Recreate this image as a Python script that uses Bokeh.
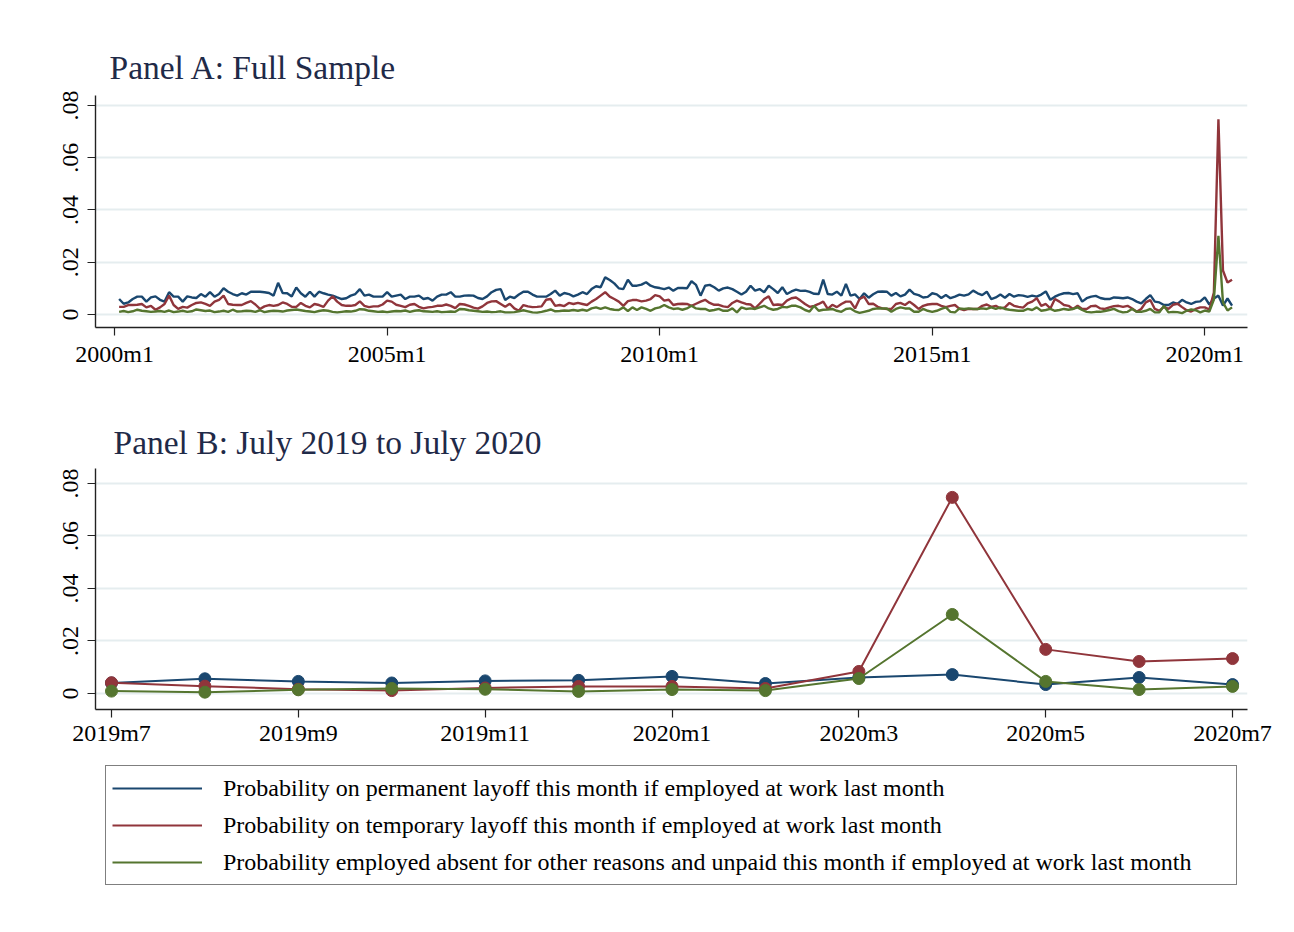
from bokeh.plotting import figure
from bokeh.models import FixedTicker, Legend, LegendItem, Range1d
from bokeh.layouts import column
from bokeh.embed import file_html
from bokeh.resources import INLINE

# ---------------- data (monthly, 2000m2 .. 2020m7) ----------------
first_month = 1  # months since 2000m1

permanent = [
    0.0059, 0.0041, 0.0046, 0.0059, 0.0068, 0.0068, 0.0049, 0.0065, 0.0069, 0.0056,
    0.0049, 0.0085, 0.0068, 0.0068, 0.0049, 0.0069, 0.0065, 0.0063, 0.0078, 0.0068,
    0.0085, 0.0068, 0.0078, 0.0100, 0.0087, 0.0078, 0.0072, 0.0081, 0.0076, 0.0087,
    0.0087, 0.0087, 0.0085, 0.0082, 0.0072, 0.0121, 0.0082, 0.0081, 0.0069, 0.0103,
    0.0081, 0.0068, 0.0087, 0.0068, 0.0087, 0.0081, 0.0076, 0.0072, 0.0065,
    0.0059, 0.0062, 0.0072, 0.0078, 0.0097, 0.0072, 0.0076, 0.0068, 0.0068, 0.0068,
    0.0085, 0.0068, 0.0072, 0.0076, 0.0059, 0.0068, 0.0068, 0.0072, 0.0059, 0.0063,
    0.0053, 0.0068, 0.0076, 0.0076, 0.0085, 0.0068, 0.0068, 0.0072, 0.0073, 0.0072,
    0.0063, 0.0059, 0.0069, 0.0085, 0.0094, 0.0097, 0.0055, 0.0068, 0.0063, 0.0076,
    0.0087, 0.0087, 0.0076, 0.0068, 0.0068, 0.0068, 0.0078, 0.0091, 0.0072, 0.0082,
    0.0078, 0.0069, 0.0076, 0.0085, 0.0078, 0.0097, 0.0108, 0.0104, 0.0142, 0.0132,
    0.0119, 0.0100, 0.0097, 0.0133, 0.0110, 0.0110, 0.0114, 0.0123, 0.0110, 0.0104,
    0.0101, 0.0097, 0.0103, 0.0091, 0.0101, 0.0101, 0.0100, 0.0127, 0.0113, 0.0072,
    0.0110, 0.0113, 0.0104, 0.0091, 0.0100, 0.0103, 0.0097, 0.0087, 0.0076, 0.0087,
    0.0110, 0.0091, 0.0097, 0.0085, 0.0110, 0.0097, 0.0082, 0.0104, 0.0078, 0.0088,
    0.0095, 0.0090, 0.0091, 0.0086, 0.0079, 0.0078, 0.0133, 0.0078, 0.0076, 0.0087,
    0.0072, 0.0117, 0.0072, 0.0077, 0.0059, 0.0081, 0.0064, 0.0077, 0.0087, 0.0088,
    0.0087, 0.0072, 0.0082, 0.0069, 0.0076, 0.0095, 0.0079, 0.0074, 0.0065, 0.0067,
    0.0081, 0.0077, 0.0063, 0.0074, 0.0062, 0.0068, 0.0076, 0.0072, 0.0077, 0.0091,
    0.0081, 0.0074, 0.0087, 0.0059, 0.0065, 0.0076, 0.0064, 0.0078, 0.0068, 0.0074,
    0.0072,
    0.0067, 0.0072, 0.0068, 0.0076, 0.0088, 0.0056, 0.0068, 0.0076, 0.0081, 0.0082,
    0.0078, 0.0081, 0.0049, 0.0062, 0.0068, 0.0071, 0.0063, 0.0059, 0.0059, 0.0065,
    0.0064, 0.0062, 0.0065, 0.0059, 0.0049, 0.0042, 0.0059, 0.0074, 0.0049, 0.0046,
    0.0036, 0.0036, 0.0046,
    0.0040, 0.0056, 0.0046, 0.0040, 0.0048, 0.0050, 0.0065, 0.0038, 0.0061, 0.0072,
    0.0034, 0.0061, 0.0034,
]

temporary = [
    0.0029, 0.0029, 0.0036, 0.0036, 0.0037, 0.0040, 0.0027, 0.0033, 0.0018, 0.0027,
    0.0040, 0.0072, 0.0036, 0.0021, 0.0029, 0.0026, 0.0036, 0.0044, 0.0046, 0.0040,
    0.0033, 0.0049, 0.0056, 0.0072, 0.0040, 0.0037, 0.0036, 0.0036, 0.0044, 0.0051,
    0.0038, 0.0021, 0.0031, 0.0036, 0.0033, 0.0036, 0.0046, 0.0040, 0.0029, 0.0029,
    0.0044, 0.0033, 0.0027, 0.0040, 0.0036, 0.0029, 0.0053, 0.0069, 0.0049,
    0.0036, 0.0033, 0.0033, 0.0036, 0.0050, 0.0033, 0.0028, 0.0031, 0.0031, 0.0038,
    0.0053, 0.0049, 0.0037, 0.0033, 0.0028, 0.0037, 0.0040, 0.0029, 0.0023, 0.0027,
    0.0029, 0.0033, 0.0033, 0.0038, 0.0033, 0.0024, 0.0040, 0.0038, 0.0033, 0.0026,
    0.0022, 0.0031, 0.0044, 0.0050, 0.0051, 0.0040, 0.0029, 0.0041, 0.0023, 0.0014,
    0.0036, 0.0031, 0.0028, 0.0029, 0.0031, 0.0056, 0.0059, 0.0033, 0.0036, 0.0032,
    0.0044, 0.0040, 0.0044, 0.0040, 0.0036, 0.0049, 0.0059, 0.0072, 0.0085, 0.0068,
    0.0059, 0.0049, 0.0033, 0.0051, 0.0055, 0.0055, 0.0050, 0.0053, 0.0059, 0.0074,
    0.0069, 0.0053, 0.0056, 0.0036, 0.0040, 0.0041, 0.0040, 0.0033, 0.0041, 0.0049,
    0.0056, 0.0044, 0.0037, 0.0037, 0.0031, 0.0028, 0.0044, 0.0053, 0.0046, 0.0040,
    0.0038, 0.0023, 0.0041, 0.0059, 0.0069, 0.0036, 0.0038, 0.0036, 0.0053, 0.0062,
    0.0065, 0.0053, 0.0040, 0.0029, 0.0033, 0.0040, 0.0049, 0.0021, 0.0037, 0.0028,
    0.0040, 0.0049, 0.0049, 0.0023, 0.0059, 0.0068, 0.0040, 0.0041, 0.0029, 0.0023,
    0.0021, 0.0021, 0.0040, 0.0044, 0.0036, 0.0049, 0.0036, 0.0021, 0.0033, 0.0038,
    0.0040, 0.0040, 0.0033, 0.0028, 0.0033, 0.0036, 0.0021, 0.0017, 0.0021, 0.0021,
    0.0021, 0.0033, 0.0038, 0.0029, 0.0033, 0.0023, 0.0027, 0.0044, 0.0033, 0.0029,
    0.0026,
    0.0042, 0.0049, 0.0062, 0.0033, 0.0040, 0.0023, 0.0059, 0.0049, 0.0036, 0.0033,
    0.0021, 0.0033, 0.0021, 0.0021, 0.0032, 0.0033, 0.0023, 0.0021, 0.0027, 0.0032,
    0.0033, 0.0029, 0.0033, 0.0023, 0.0010, 0.0021, 0.0046, 0.0055, 0.0021, 0.0014,
    0.0029, 0.0021, 0.0037,
    0.0041, 0.0028, 0.0016, 0.0011, 0.0021, 0.0027, 0.0027, 0.0019, 0.0084, 0.0747,
    0.0168, 0.0122, 0.0133,
]

absent_unpaid = [
    0.0010, 0.0013, 0.0009, 0.0012, 0.0018, 0.0014, 0.0012, 0.0010, 0.0011, 0.0013,
    0.0010, 0.0015, 0.0009, 0.0011, 0.0014, 0.0010, 0.0012, 0.0019, 0.0016, 0.0013,
    0.0015, 0.0009, 0.0011, 0.0014, 0.0010, 0.0018, 0.0011, 0.0012, 0.0014, 0.0013,
    0.0010, 0.0016, 0.0009, 0.0012, 0.0014, 0.0013, 0.0011, 0.0015, 0.0017, 0.0019,
    0.0016, 0.0013, 0.0011, 0.0009, 0.0013, 0.0016, 0.0014, 0.0010, 0.0008,
    0.0010, 0.0012, 0.0011, 0.0014, 0.0020, 0.0019, 0.0014, 0.0012, 0.0010, 0.0011,
    0.0009, 0.0011, 0.0013, 0.0012, 0.0015, 0.0010, 0.0014, 0.0016, 0.0012, 0.0011,
    0.0010, 0.0012, 0.0009, 0.0010, 0.0011, 0.0010, 0.0021, 0.0020, 0.0016, 0.0014,
    0.0012, 0.0010, 0.0011, 0.0009, 0.0010, 0.0012, 0.0008, 0.0008, 0.0009, 0.0012,
    0.0016, 0.0012, 0.0008, 0.0007, 0.0010, 0.0014, 0.0019, 0.0012, 0.0013, 0.0015,
    0.0014, 0.0017, 0.0014, 0.0018, 0.0014, 0.0023, 0.0027, 0.0021, 0.0027, 0.0021,
    0.0018, 0.0017, 0.0027, 0.0013, 0.0027, 0.0017, 0.0027, 0.0021, 0.0014, 0.0023,
    0.0027, 0.0036, 0.0027, 0.0021, 0.0023, 0.0018, 0.0023, 0.0033, 0.0023, 0.0021,
    0.0021, 0.0014, 0.0017, 0.0021, 0.0014, 0.0014, 0.0023, 0.0008, 0.0027, 0.0021,
    0.0023, 0.0021, 0.0027, 0.0033, 0.0023, 0.0018, 0.0021, 0.0029, 0.0027, 0.0033,
    0.0033, 0.0027, 0.0017, 0.0011, 0.0033, 0.0014, 0.0018, 0.0019, 0.0021, 0.0014,
    0.0010, 0.0021, 0.0023, 0.0012, 0.0006, 0.0010, 0.0014, 0.0021, 0.0023, 0.0023,
    0.0023, 0.0010, 0.0021, 0.0027, 0.0023, 0.0023, 0.0010, 0.0010, 0.0021, 0.0014,
    0.0010, 0.0014, 0.0021, 0.0027, 0.0010, 0.0008, 0.0023, 0.0021, 0.0023, 0.0021,
    0.0021, 0.0023, 0.0021, 0.0027, 0.0021, 0.0027, 0.0021, 0.0018, 0.0016, 0.0014,
    0.0014,
    0.0021, 0.0017, 0.0027, 0.0014, 0.0017, 0.0021, 0.0014, 0.0017, 0.0021, 0.0018,
    0.0021, 0.0027, 0.0017, 0.0010, 0.0008, 0.0010, 0.0010, 0.0013, 0.0017, 0.0021,
    0.0013, 0.0008, 0.0010, 0.0021, 0.0010, 0.0010, 0.0014, 0.0021, 0.0008, 0.0008,
    0.0033, 0.0008, 0.0010,
    0.0009, 0.0005, 0.0014, 0.0019, 0.0016, 0.0008, 0.0015, 0.0011, 0.0057, 0.0301,
    0.0046, 0.0015, 0.0027,
]

series_labels = [
    "Probability on permanent layoff this month if employed at work last month",
    "Probability on temporary layoff this month if employed at work last month",
    "Probability employed absent for other reasons and unpaid this month if employed at work last month",
]
colors = ["#1a476f", "#90353b", "#55752f"]

y_ticks = [0, 0.02, 0.04, 0.06, 0.08]
y_tick_labels = ["0", ".02", ".04", ".06", ".08"]

a_ticks = [0, 60, 120, 180, 240]
a_tick_labels = ["2000m1", "2005m1", "2010m1", "2015m1", "2020m1"]

b_months = ["2019m7", "2019m8", "2019m9", "2019m10", "2019m11", "2019m12",
            "2020m1", "2020m2", "2020m3", "2020m4", "2020m5", "2020m6", "2020m7"]
b_tick_labels = ["2019m7", "2019m9", "2019m11", "2020m1", "2020m3", "2020m5", "2020m7"]

FONT = "Liberation Serif"
GRID = "#e5edef"
W = 1286


def style(p, xticks, xlabels):
    p.outline_line_color = None
    p.background_fill_color = "white"
    p.border_fill_color = "white"
    p.xgrid.visible = False
    p.ygrid.grid_line_color = GRID
    p.ygrid.grid_line_width = 2
    p.yaxis.ticker = FixedTicker(ticks=y_ticks)
    p.yaxis.major_label_overrides = {t: l for t, l in zip(y_ticks, y_tick_labels)}
    p.yaxis.major_label_orientation = "vertical"
    p.xaxis.ticker = FixedTicker(ticks=xticks)
    p.xaxis.major_label_overrides = {t: l for t, l in zip(xticks, xlabels)}
    for ax in (p.xaxis[0], p.yaxis[0]):
        ax.axis_line_color = "#222222"
        ax.axis_line_width = 1.4
        ax.major_tick_line_color = "#222222"
        ax.major_tick_line_width = 1.2
        ax.major_tick_out = 8
        ax.major_tick_in = 0
        ax.minor_tick_line_color = None
        ax.major_label_text_font = FONT
        ax.major_label_text_font_size = "24px"
        ax.major_label_text_color = "black"
    p.xaxis.major_label_standoff = 5
    p.yaxis.major_label_standoff = 9
    p.title.text_font = FONT
    p.title.text_font_size = "33.5px"
    p.title.text_font_style = "normal"
    p.title.text_color = "#1f2a48"
    p.title.align = "left"


# ---------------- Panel A ----------------
pa = figure(width=W, height=380, output_backend="svg", toolbar_location=None,
            title="Panel A: Full Sample",
            x_range=Range1d(-4.2, 249.4), y_range=Range1d(-0.005, 0.0838),
            min_border_left=92, min_border_right=39, min_border_top=95,
            min_border_bottom=53)
style(pa, a_ticks, a_tick_labels)
pa.title.offset = 14
pa.title.standoff = 19
for ser, col in zip([permanent, temporary, absent_unpaid], colors):
    xs = list(range(first_month, first_month + len(ser)))
    pa.line(xs, ser, line_color=col, line_width=2.4)

# ---------------- Panel B ----------------
nb = len(b_months)
b_perm = permanent[-nb:]
b_temp = temporary[-nb:]
b_abs = absent_unpaid[-nb:]
b_x = list(range(nb))
b_tick_pos = [b_months.index(l) for l in b_tick_labels]

pb = figure(width=W, height=375, output_backend="svg", toolbar_location=None,
            title="Panel B: July 2019 to July 2020",
            x_range=Range1d(-0.171, 12.16), y_range=Range1d(-0.0061, 0.0857),
            min_border_left=95, min_border_right=39, min_border_top=88,
            min_border_bottom=46)
style(pb, b_tick_pos, b_tick_labels)
pb.xaxis.major_label_standoff = 2
pb.title.offset = 18
pb.title.standoff = 16
for ser, col in zip([b_perm, b_temp, b_abs], colors):
    pb.line(b_x, ser, line_color=col, line_width=2)
    pb.scatter(b_x, ser, size=12, fill_color=col, line_color=col)

# ---------------- Legend (own strip below Panel B) ----------------
pl = figure(width=W, height=150, output_backend="svg", toolbar_location=None,
            x_axis_type=None, y_axis_type=None,
            x_range=Range1d(0, 1), y_range=Range1d(0, 1),
            min_border_left=95, min_border_right=0, min_border_top=0,
            min_border_bottom=0)
pl.outline_line_color = None
pl.xgrid.visible = False
pl.ygrid.visible = False
# key renderers: their data lie outside this strip's ranges, only their legend glyphs show
key_renderers = [pl.line(x=[5, 6], y=[5, 5], line_color=col, line_width=2) for col in colors]

legend = Legend(
    items=[LegendItem(label=lab, renderers=[r]) for lab, r in zip(series_labels, key_renderers)],
    location="top_left", orientation="vertical",
    border_line_color="black", border_line_width=1.2,
    glyph_width=90, glyph_height=32, label_standoff=21, spacing=5,
    padding=6, margin=10, label_width=1007,
    label_text_font=FONT, label_text_font_size="24px", label_text_color="black",
    background_fill_color="white",
)
pl.add_layout(legend, "center")

layout = column(pa, pb, pl, spacing=0)
open("out.html", "w").write(file_html(layout, INLINE))
